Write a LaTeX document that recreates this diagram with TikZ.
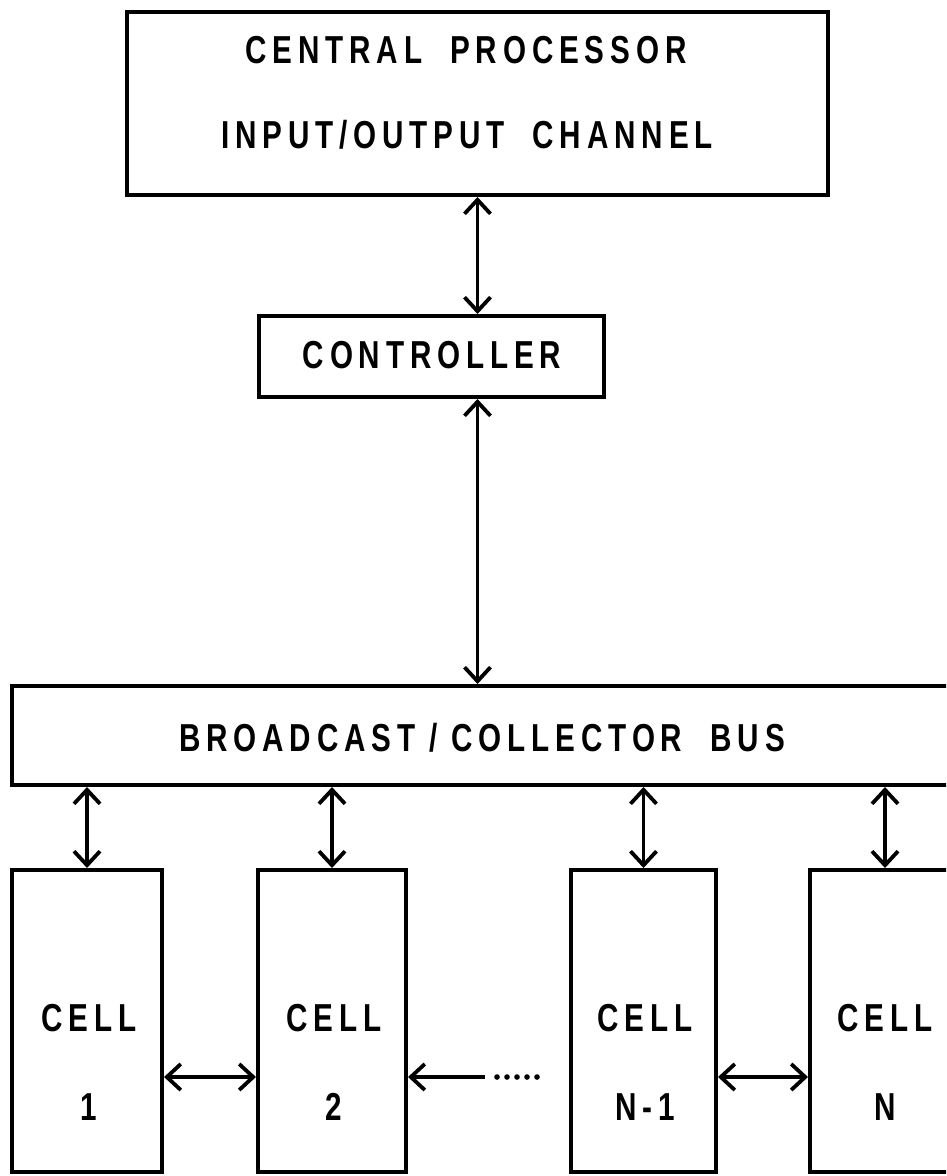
\documentclass[tikz,border=0pt]{standalone}
\usepackage{fontspec}
\setmainfont{Liberation Sans}[FakeStretch=0.76,LetterSpace=15]
\usetikzlibrary{arrows.meta}
\begin{document}
\begin{tikzpicture}[x=1pt,y=-1pt,
  box/.style={draw, line width=4pt, inner sep=0pt},
  lbl/.style={font=\fontsize{39}{46}\selectfont\bfseries, inner sep=0pt, anchor=base},
  tip/.tip={Straight Barb[length=14pt,width=26pt,line width=3.8pt]},
  link/.style={line width=3.6pt, tip-tip},
  onelink/.style={line width=3.6pt, -tip}]
\useasboundingbox (0,0) rectangle (946,1176);
\clip (0,0) rectangle (946,1176);
\fill[white] (0,0) rectangle (946,1176);
% boxes
\node[box, minimum width=701pt, minimum height=183pt] (cpu) at (477.5,103.5) {};
\node[box, minimum width=345pt, minimum height=81pt] (ctrl) at (431.5,356.5) {};
\node[box, minimum width=960pt, minimum height=99pt] (bus) at (492,735.5) {};
\node[box, minimum width=150pt, minimum height=302pt] (c1) at (87,1021) {};
\node[box, minimum width=148pt, minimum height=302pt] (c2) at (332,1021) {};
\node[box, minimum width=145pt, minimum height=302pt] (cn1) at (643.5,1021) {};
\node[box, minimum width=150pt, minimum height=302pt] (cn) at (885,1021) {};
% labels
\node[lbl] (t1) at (466,63) {CENTRAL\ \ PROCESSOR};
\node[lbl] (t2) at (467,148) {INPUT/OUTPUT\ \ CHANNEL};
\node[lbl] (t3) at (432,368) {CONTROLLER};
\node[lbl] (t4) at (482,751) {BROADCAST / COLLECTOR\ \ BUS};
\node[lbl] (l1) at (89,1031) {CELL};
\node[lbl] (n1) at (89,1120) {1};
\node[lbl] (l2) at (334,1031) {CELL};
\node[lbl] (n2) at (334,1120) {2};
\node[lbl] (l3) at (645,1031) {CELL};
\node[lbl] (n3) at (645,1120) {N-1};
\node[lbl] (l4) at (885,1031) {CELL};
\node[lbl] (n4) at (885,1120) {N};
% vertical connectors
\draw[link] (cpu.south) -- (cpu.south |- ctrl.north);
\draw[link] (ctrl.south -| cpu.south) -- (bus.north -| cpu.south);
\draw[link] (c1.north |- bus.south) -- (c1.north);
\draw[link] (c2.north |- bus.south) -- (c2.north);
\draw[link] (cn1.north |- bus.south) -- (cn1.north);
\draw[link] (cn.north |- bus.south) -- (cn.north);
% horizontal connectors
\draw[link] ([yshift=-56pt]c1.east) -- ([yshift=-56pt]c2.west);
\coordinate (dotend) at (485,1077);
\draw[onelink] (dotend) -- ([yshift=-56pt]c2.east);
\foreach \x in {497,507,517,527,537} \fill (\x,1077) circle (2.8pt);
\draw[link] ([yshift=-56pt]cn1.east) -- ([yshift=-56pt]cn.west);
\end{tikzpicture}
\end{document}
